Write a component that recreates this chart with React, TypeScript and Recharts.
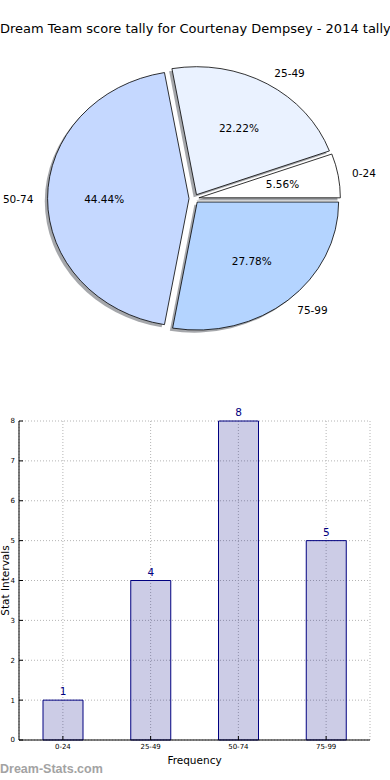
import React from 'react';
import { PieChart, Pie, Cell, BarChart, Bar, XAxis, YAxis, CartesianGrid, LabelList } from 'recharts';

const categories = ['0-24', '25-49', '50-74', '75-99'];
const frequencies = [1, 4, 8, 5];
const sliceColors = ['#ffffff', '#eaf2ff', '#c5d8ff', '#b4d4ff'];
const yTicks = [0, 1, 2, 3, 4, 5, 6, 7, 8];

const data = categories.map((range, i) => ({ range, count: frequencies[i] }));

const FONT = '"DejaVu Sans", Verdana, sans-serif';
const RAD = Math.PI / 180;
// the original pie was drawn on non-equal axes, so it is a little wider than tall
const SX = 1.105;
const EXPLODE = 4.5;
const NAVY = '#000080';

const ExplodedSlice = (props: any) => {
  const { cx, cy, outerRadius, startAngle, endAngle, midAngle, fill, percent, payload } = props;
  const ox = cx + EXPLODE * SX * Math.cos(midAngle * RAD);
  const oy = cy - EXPLODE * Math.sin(midAngle * RAD);
  const pt = (a: number, r: number, x0: number, y0: number) => [
    x0 + r * SX * Math.cos(a * RAD),
    y0 - r * Math.sin(a * RAD),
  ];
  const wedge = (x0: number, y0: number) => {
    const [x1, y1] = pt(startAngle, outerRadius, x0, y0);
    const [x2, y2] = pt(endAngle, outerRadius, x0, y0);
    const large = Math.abs(endAngle - startAngle) > 180 ? 1 : 0;
    return `M${x0},${y0} L${x1},${y1} A${outerRadius * SX},${outerRadius} 0 ${large} 0 ${x2},${y2} Z`;
  };
  const [lx, ly] = pt(midAngle, outerRadius * 1.1, ox, oy);
  const [px, py] = pt(midAngle, outerRadius * 0.6, ox, oy);
  const right = Math.cos(midAngle * RAD) >= 0;
  return (
    <g>
      <path d={wedge(ox - 2.8, oy + 2.6)} fill="#4b5058" fillOpacity={0.5} stroke="none" />
      <path d={wedge(ox, oy)} fill={fill} stroke="#000" strokeWidth={0.8} />
      <text x={px} y={py} textAnchor="middle" dominantBaseline="central" fontSize={10.5} fontFamily={FONT} fill="#000">
        {(percent * 100).toFixed(2)}%
      </text>
      <text x={lx} y={ly} textAnchor={right ? 'start' : 'end'} dominantBaseline="central" fontSize={10.5} fontFamily={FONT} fill="#000">
        {payload?.range}
      </text>
    </g>
  );
};

const YLabel = (props: any) => {
  const vb = props.viewBox || { x: 0, y: 0, width: 0, height: 0 };
  const x = 8.5;
  const y = vb.y + vb.height / 2;
  return (
    <text x={x} y={y} transform={`rotate(-90 ${x} ${y})`} textAnchor="middle" fontSize={10.5} fontFamily={FONT} fill="#000">
      Stat Intervals
    </text>
  );
};

const tickStyle = { fontSize: 7, fill: '#000', fontFamily: FONT };

export default function App() {
  return (
    <div style={{ position: 'relative', width: 390, height: 780, background: '#fff', overflow: 'hidden' }}>
      <style>{`body{margin:0}`}</style>
      <div
        style={{
          position: 'absolute',
          top: 21,
          left: 0,
          width: 390,
          textAlign: 'center',
          fontFamily: FONT,
          fontSize: 13,
          lineHeight: '16px',
          whiteSpace: 'nowrap',
          color: '#000',
        }}
      >
        Dream Team score tally for Courtenay Dempsey - 2014 tally
      </div>

      <div style={{ position: 'absolute', top: 0, left: 0 }}>
        <PieChart width={390} height={360} margin={{ top: 0, right: 0, bottom: 0, left: 0 }}>
          <Pie
            data={data}
            dataKey="count"
            nameKey="range"
            cx={194}
            cy={198.6}
            outerRadius={128}
            startAngle={0}
            endAngle={360}
            stroke="#000"
            shape={ExplodedSlice}
            inactiveShape={ExplodedSlice}
            activeShape={ExplodedSlice}
            labelLine={false}
            isAnimationActive={false}
          >
            {data.map((d, i) => (
              <Cell key={d.range} fill={sliceColors[i]} />
            ))}
          </Pie>
        </PieChart>
      </div>

      <div style={{ position: 'absolute', top: 400, left: 0 }}>
        <BarChart width={390} height={380} data={data} margin={{ top: 21, right: 20, bottom: 15, left: 0 }}>
          <CartesianGrid stroke="#b4b4b4" strokeDasharray="1 2" />
          <XAxis
            dataKey="range"
            height={25}
            tickSize={-4}
            tickMargin={8}
            tick={tickStyle}
            axisLine={{ stroke: '#000' }}
            tickLine={{ stroke: '#000' }}
            interval={0}
            label={{ value: 'Frequency', position: 'insideBottom', offset: 1, fontSize: 10.5, fill: '#000', fontFamily: FONT }}
          />
          <XAxis
            xAxisId="top"
            orientation="top"
            dataKey="range"
            height={0}
            tick={false}
            tickSize={-4}
            axisLine={{ stroke: '#000' }}
            tickLine={{ stroke: '#000' }}
            interval={0}
          />
          <YAxis
            domain={[0, 8]}
            ticks={yTicks}
            width={19}
            tickSize={-4}
            tickMargin={8}
            tick={tickStyle}
            axisLine={{ stroke: '#000' }}
            tickLine={{ stroke: '#000' }}
            interval={0}
            label={<YLabel />}
          />
          <YAxis
            yAxisId="right"
            orientation="right"
            domain={[0, 8]}
            ticks={yTicks}
            width={0}
            tick={false}
            tickSize={-4}
            axisLine={{ stroke: '#000' }}
            tickLine={{ stroke: '#000' }}
            interval={0}
          />
          <Bar dataKey="count" fill={NAVY} fillOpacity={0.2} stroke={NAVY} strokeWidth={1} barSize={40} isAnimationActive={false}>
            <LabelList dataKey="count" position="top" offset={5} fill={NAVY} fontSize={10.5} fontFamily={FONT} />
          </Bar>
        </BarChart>
      </div>

      <div
        style={{
          position: 'absolute',
          left: 0,
          top: 762,
          fontFamily: '"Liberation Sans", Arial, sans-serif',
          fontWeight: 'bold',
          fontSize: 12.5,
          lineHeight: '15px',
          color: '#a3a3a3',
          whiteSpace: 'nowrap',
        }}
      >
        Dream-Stats.com
      </div>
    </div>
  );
}
